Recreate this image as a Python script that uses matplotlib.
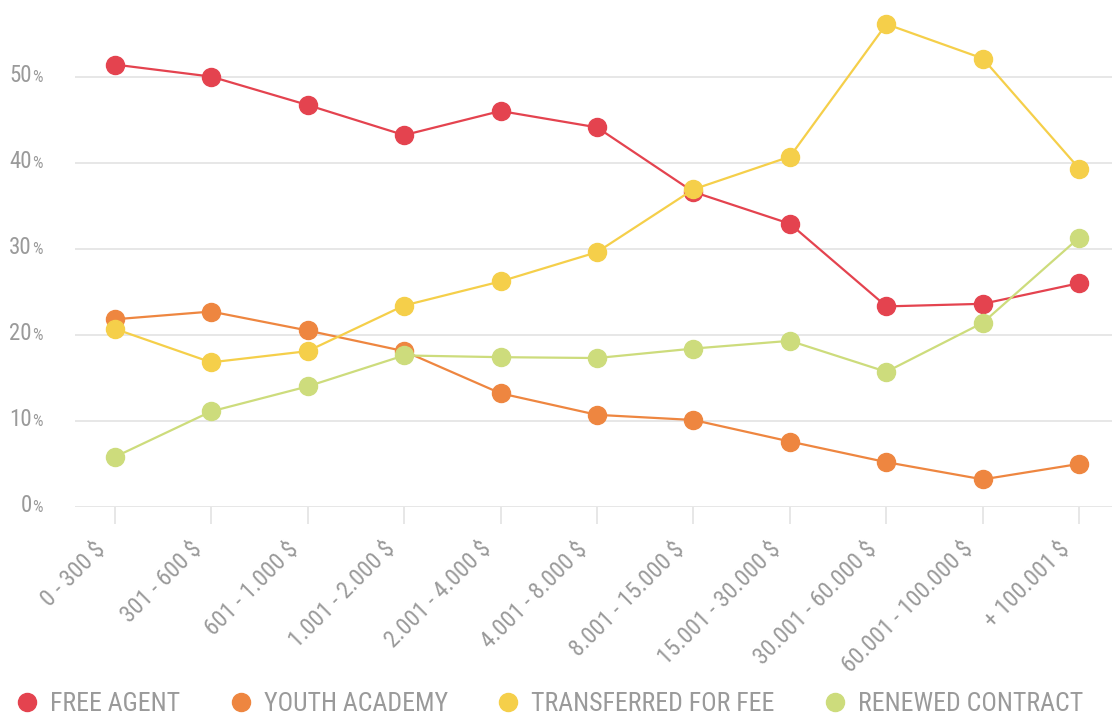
import numpy as np
import matplotlib
matplotlib.use("Agg")
import matplotlib.pyplot as plt
from matplotlib import font_manager as fm
from matplotlib.lines import Line2D
from matplotlib.transforms import ScaledTranslation

# pick a narrow font if one is installed, otherwise fall back
names = {f.name for f in fm.fontManager.ttflist}
font_name, font_stretch = 'Roboto', 'normal'
for pref in ['Liberation Sans Narrow', 'Roboto Condensed', 'Noto Sans Condensed',
             'Open Sans Condensed', 'DejaVu Sans Condensed']:
    if pref in names:
        font_name = pref
        break
else:
    for f in fm.fontManager.ttflist:
        if f.stretch in ('condensed', 'semi-condensed') and f.name in ('Noto Sans', 'Roboto', 'Open Sans', 'DejaVu Sans'):
            font_name, font_stretch = f.name, 'condensed'
            break
plt.rcParams['font.family'] = [font_name, 'DejaVu Sans']
plt.rcParams['font.stretch'] = font_stretch

# salary brackets (x categories)
brackets = ["0 - 300 $", "301 - 600 $", "601 - 1.000 $", "1.001 - 2.000 $",
            "2.001 - 4.000 $", "4.001 - 8.000 $", "8.001 - 15.000 $",
            "15.001 - 30.000 $", "30.001 - 60.000 $", "60.001 - 100.000 $",
            "+ 100.001 $"]

# share of players per bracket, in %
free_agent = [51.4, 50.0, 46.7, 43.2, 46.0, 44.1, 36.6, 32.9, 23.3, 23.6, 26.0]
youth_academy = [21.8, 22.7, 20.5, 18.1, 13.2, 10.7, 10.1, 7.6, 5.2, 3.2, 5.0]
transferred = [20.7, 16.8, 18.1, 23.4, 26.2, 29.6, 36.9, 40.7, 56.1, 52.1, 39.3]
renewed = [5.8, 11.1, 14.0, 17.6, 17.4, 17.3, 18.4, 19.3, 15.7, 21.4, 31.3]

series_names = ["FREE AGENT", "YOUTH ACADEMY", "TRANSFERRED FOR FEE", "RENEWED CONTRACT"]
series_colors = ["#e4434f", "#ee8640", "#f5cf4a", "#cddc7c"]
yticks = [0, 10, 20, 30, 40, 50]

grey = "#9a9a9a"

fig = plt.figure(figsize=(11.12, 7.16), dpi=100)
ax = fig.add_axes([0.0674, 0.292, 0.9326, 0.708])

x = np.arange(len(brackets))
for vals, col in zip([free_agent, youth_academy, transferred, renewed], series_colors):
    ax.plot(x, vals, color=col, lw=1.6, marker='o', markersize=13, clip_on=False, zorder=3)

ax.set_xlim(-0.412, 10.339)
ax.set_ylim(0, 58.9)

for s in ax.spines.values():
    s.set_visible(False)
ax.set_yticks(yticks)
ax.yaxis.grid(True, color="#e3e3e3", lw=1.2)
ax.set_axisbelow(True)
ax.tick_params(axis='y', length=0, labelleft=False)
# y labels: big number + small percent sign
for v in yticks:
    ax.annotate(str(v), xy=(0, v), xycoords=('axes fraction', 'data'),
                xytext=(-43, -5), textcoords='offset pixels', ha='right', va='baseline',
                fontsize=16.5, color=grey)
    ax.annotate("%", xy=(0, v), xycoords=('axes fraction', 'data'),
                xytext=(-43, -5), textcoords='offset pixels', ha='left', va='baseline',
                fontsize=12, color=grey)

ax.set_xticks(x)
ax.set_xticklabels(brackets, rotation=45, ha='right', rotation_mode='anchor', va='center',
                   fontsize=17, color=grey)
ax.tick_params(axis='x', length=12, width=1.2, color="#e3e3e3", pad=16)
for lbl in ax.get_xticklabels():
    lbl.set_transform(lbl.get_transform() + ScaledTranslation(-0.13, 0, fig.dpi_scale_trans))

handles = [Line2D([], [], ls='none', marker='o', markersize=13, color=c) for c in series_colors]
fig.legend(handles, series_names, loc='lower left', bbox_to_anchor=(0.0162, 0.0),
           ncol=4, frameon=False, fontsize=18.5, labelcolor=grey, handletextpad=0.55,
           columnspacing=2.0, handlelength=0.7, borderpad=0, borderaxespad=0)

fig.savefig("out.png", dpi=100)
